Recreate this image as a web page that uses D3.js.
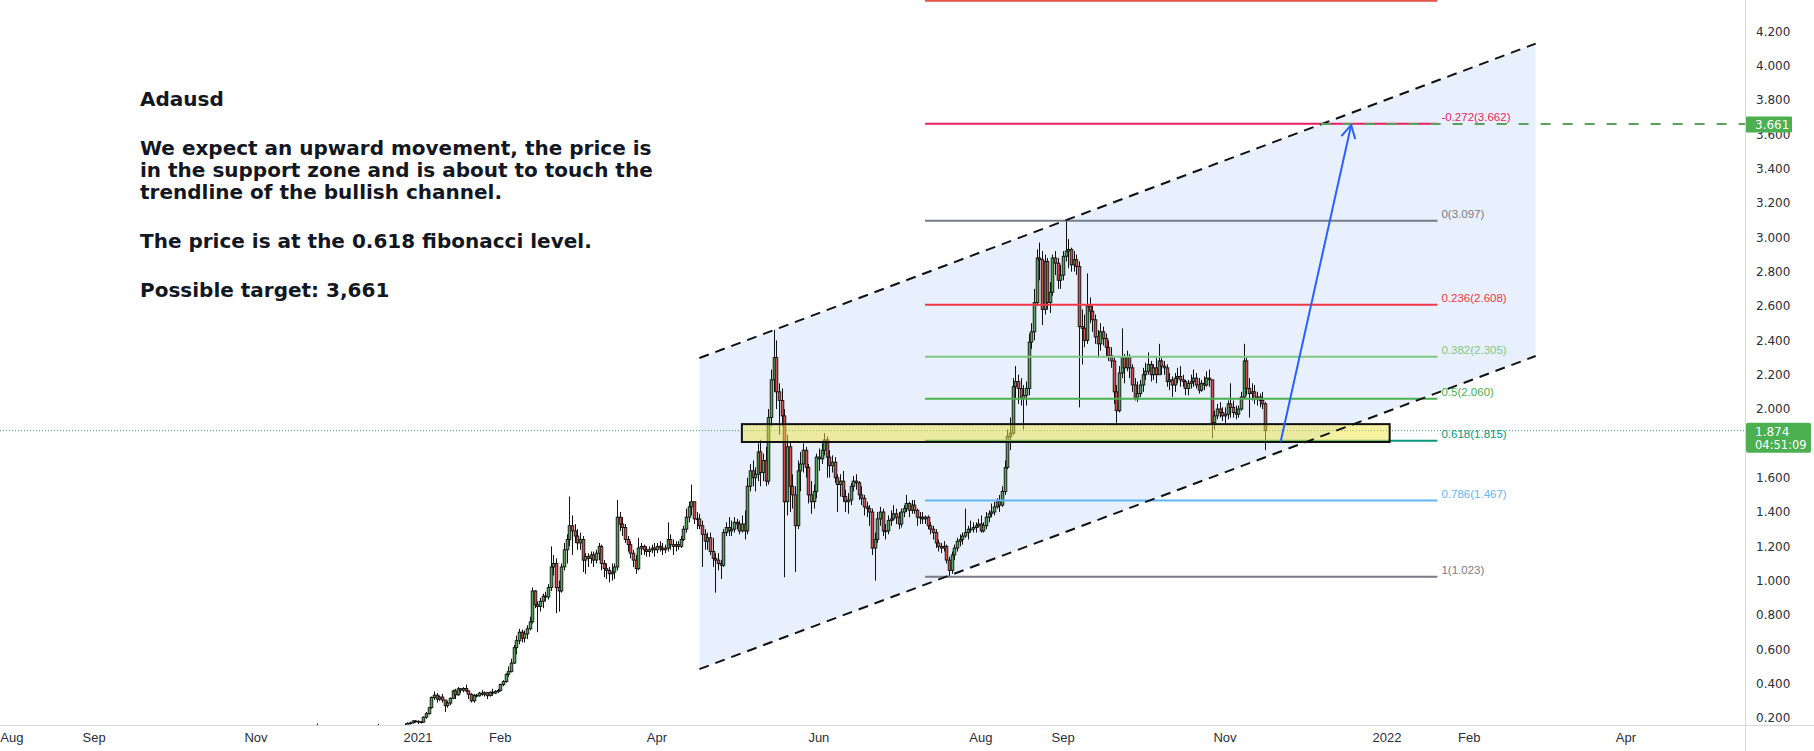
<!DOCTYPE html>
<html>
<head>
<meta charset="utf-8">
<script src="https://cdn.jsdelivr.net/npm/d3@7"></script>
<style>
  body { margin: 0; background: #fff; }
  svg { display: block; }
</style>
</head>
<body>
<svg id="chart"></svg>
<script>
// ADA/USD daily candles, [close, high, low] per day; open = previous close
const nov2020 = [[.118,.121,.112],[.129,.135,.116],[.142,.148,.127],[.152,.157,.139],[.150,.168,.143],[.140,.155,.135],[.120,.142,.105],[.130,.134,.117],[.140,.145,.128],[.151,.155,.137],[.150,.157,.143]]
const dec2020 = [[.150,.157,.141],[.152,.156,.144],[.156,.158,.148],[.141,.157,.138],[.150,.152,.139],[.153,.156,.147],[.149,.155,.146],[.140,.151,.137],[.145,.147,.133],[.143,.148,.139],[.139,.145,.134],[.146,.148,.138],[.152,.155,.144],[.151,.154,.147],[.149,.153,.146],[.154,.157,.146],[.156,.166,.150],[.153,.158,.149],[.155,.158,.150],[.150,.157,.145],[.143,.153,.139],[.147,.150,.138],[.120,.149,.115],[.135,.138,.117],[.145,.148,.133],[.150,.154,.143],[.156,.168,.147],[.168,.175,.155],[.172,.178,.162],[.183,.186,.168],[.181,.187,.173]]
const jan2021 = [[.178,.185,.165],[.176,.182,.168],[.205,.210,.175],[.225,.235,.195],[.260,.265,.220],[.320,.325,.255],[.333,.355,.305],[.310,.345,.290],[.322,.330,.300],[.305,.340,.290],[.272,.305,.235],[.287,.300,.260],[.315,.320,.275],[.358,.365,.310],[.335,.370,.310],[.370,.380,.330],[.362,.375,.345],[.372,.380,.350],[.358,.395,.350],[.338,.360,.310],[.300,.345,.290],[.332,.340,.290],[.329,.340,.320],[.345,.352,.325],[.338,.362,.330],[.347,.355,.325],[.330,.350,.310],[.350,.355,.325],[.345,.370,.330],[.355,.362,.340],[.360,.370,.345]]
const feb2021 = [[.395,.400,.355],[.412,.420,.385],[.455,.460,.405],[.470,.500,.440],[.520,.545,.465],[.610,.625,.515],[.650,.680,.570],[.700,.720,.630],[.665,.715,.640],[.690,.710,.640],[.720,.740,.660],[.760,.790,.710],[.940,.960,.750],[.860,.945,.840],[.850,.880,.700],[.880,.900,.820],[.910,.925,.840],[.905,.935,.880],[.960,.980,.890],[1.080,1.200,.940],[1.100,1.150,1.030],[.960,1.130,.810],[.940,1.000,.820],[1.080,1.100,.930],[1.180,1.220,1.060],[1.240,1.270,1.100],[1.320,1.490,1.200],[1.290,1.380,1.150]]
const mar2021 = [[1.26,1.33,1.22],[1.22,1.30,1.18],[1.24,1.28,1.18],[1.12,1.26,1.05],[1.14,1.16,1.04],[1.13,1.16,1.08],[1.15,1.17,1.10],[1.12,1.17,1.08],[1.16,1.18,1.10],[1.20,1.22,1.12],[1.10,1.21,1.06],[1.07,1.12,1.02],[1.06,1.10,1.01],[1.04,1.08,0.99],[1.05,1.10,1.00],[1.08,1.10,1.01],[1.37,1.47,1.06],[1.33,1.40,1.29],[1.31,1.37,1.26],[1.24,1.33,1.22],[1.21,1.26,1.17],[1.16,1.23,1.13],[1.12,1.18,1.08],[1.07,1.15,1.04],[1.19,1.25,1.06],[1.20,1.22,1.15],[1.18,1.21,1.15],[1.17,1.20,1.14],[1.18,1.20,1.14],[1.19,1.21,1.16],[1.18,1.22,1.14]]
const apr2021 = [[1.20,1.22,1.16],[1.19,1.23,1.17],[1.18,1.22,1.15],[1.19,1.21,1.16],[1.24,1.34,1.17],[1.21,1.27,1.18],[1.20,1.24,1.15],[1.21,1.23,1.17],[1.20,1.23,1.18],[1.24,1.26,1.19],[1.30,1.32,1.23],[1.37,1.42,1.28],[1.43,1.46,1.34],[1.46,1.56,1.38],[1.36,1.46,1.33],[1.36,1.40,1.30],[1.32,1.39,1.30],[1.27,1.35,1.08],[1.23,1.30,1.18],[1.25,1.28,1.18],[1.17,1.28,1.15],[1.13,1.25,1.08],[1.12,1.16,0.93],[1.10,1.16,1.06],[1.09,1.12,1.01],[1.28,1.30,1.08],[1.31,1.34,1.26],[1.29,1.37,1.26],[1.30,1.35,1.26],[1.34,1.37,1.28]]
const may2021 = [[1.33,1.36,1.30],[1.29,1.35,1.27],[1.33,1.38,1.28],[1.29,1.41,1.24],[1.55,1.60,1.27],[1.64,1.68,1.52],[1.60,1.70,1.55],[1.62,1.66,1.52],[1.75,1.80,1.58],[1.63,1.82,1.55],[1.70,1.74,1.58],[1.58,1.78,1.55],[1.95,2.00,1.56],[2.17,2.23,1.90],[2.30,2.46,2.10],[2.10,2.40,2.00],[2.05,2.15,1.85],[1.96,2.12,1.90],[1.46,2.00,1.02],[1.78,1.85,1.38],[1.55,1.81,1.40],[1.50,1.62,1.42],[1.32,1.55,1.05],[1.64,1.70,1.30],[1.68,1.75,1.52],[1.76,1.80,1.63],[1.66,1.78,1.60],[1.50,1.68,1.45],[1.46,1.58,1.39],[1.52,1.56,1.42],[1.72,1.74,1.48]]
const jun2021 = [[1.71,1.77,1.64],[1.76,1.80,1.68],[1.82,1.86,1.73],[1.72,1.84,1.60],[1.67,1.76,1.60],[1.69,1.73,1.63],[1.60,1.72,1.57],[1.56,1.62,1.40],[1.58,1.62,1.49],[1.49,1.64,1.46],[1.46,1.53,1.40],[1.47,1.51,1.39],[1.55,1.57,1.44],[1.58,1.61,1.52],[1.57,1.62,1.53],[1.50,1.58,1.47],[1.48,1.55,1.44],[1.43,1.50,1.38],[1.42,1.46,1.37],[1.40,1.44,1.32],[1.19,1.42,1.15],[1.24,1.28,1.00],[1.36,1.40,1.22],[1.40,1.43,1.32],[1.29,1.42,1.26],[1.29,1.33,1.24],[1.35,1.38,1.27],[1.36,1.41,1.32],[1.39,1.44,1.35],[1.37,1.42,1.33]]
const jul2021 = [[1.33,1.40,1.30],[1.40,1.42,1.31],[1.42,1.44,1.37],[1.45,1.50,1.40],[1.41,1.46,1.37],[1.44,1.47,1.39],[1.41,1.47,1.39],[1.37,1.42,1.32],[1.37,1.40,1.33],[1.36,1.40,1.33],[1.37,1.38,1.33],[1.32,1.38,1.30],[1.30,1.34,1.27],[1.28,1.32,1.24],[1.22,1.30,1.19],[1.20,1.24,1.17],[1.19,1.22,1.16],[1.20,1.23,1.17],[1.12,1.21,1.10],[1.06,1.14,1.02],[1.15,1.17,1.04],[1.19,1.21,1.12],[1.23,1.25,1.17],[1.24,1.27,1.20],[1.26,1.28,1.21],[1.28,1.42,1.25],[1.30,1.32,1.24],[1.30,1.35,1.28],[1.31,1.34,1.28],[1.32,1.34,1.28],[1.33,1.36,1.31]]
const aug2021 = [[1.29,1.38,1.28],[1.32,1.34,1.28],[1.37,1.40,1.30],[1.39,1.41,1.34],[1.40,1.45,1.37],[1.43,1.46,1.38],[1.46,1.48,1.42],[1.44,1.50,1.40],[1.52,1.55,1.43],[1.66,1.70,1.50],[1.84,1.88,1.65],[1.86,1.95,1.76],[2.13,2.18,1.85],[2.16,2.25,2.06],[2.12,2.20,2.03],[2.06,2.18,2.02],[2.08,2.14,1.88],[2.12,2.16,2.02],[2.39,2.44,2.08],[2.45,2.50,2.35],[2.62,2.70,2.40],[2.88,2.93,2.60],[2.87,2.97,2.75],[2.58,2.92,2.49],[2.86,2.90,2.55],[2.62,2.88,2.58],[2.68,2.74,2.56],[2.88,2.90,2.66],[2.85,2.92,2.78],[2.75,2.88,2.70],[2.78,2.84,2.70]]
const sep2021 = [[2.89,2.92,2.75],[2.92,3.10,2.86],[2.93,2.99,2.82],[2.84,2.94,2.80],[2.87,2.92,2.80],[2.83,2.90,2.78],[2.48,2.86,2.01],[2.47,2.58,2.26],[2.40,2.55,2.36],[2.60,2.79,2.38],[2.57,2.65,2.50],[2.52,2.60,2.45],[2.42,2.55,2.38],[2.38,2.46,2.30],[2.45,2.50,2.34],[2.41,2.48,2.37],[2.36,2.44,2.30],[2.31,2.40,2.28],[2.28,2.36,2.24],[2.10,2.30,2.03],[1.99,2.14,1.92],[2.21,2.25,1.98],[2.30,2.47,2.18],[2.24,2.32,2.15],[2.30,2.34,2.22],[2.24,2.32,2.18],[2.14,2.26,2.10],[2.06,2.18,2.05],[2.09,2.16,2.04],[2.14,2.17,2.07]]
const oct2021 = [[2.20,2.24,2.10],[2.22,2.27,2.17],[2.26,2.33,2.20],[2.20,2.28,2.16],[2.24,2.26,2.17],[2.20,2.30,2.15],[2.28,2.38,2.20],[2.25,2.30,2.20],[2.24,2.28,2.20],[2.16,2.26,2.13],[2.17,2.21,2.11],[2.14,2.19,2.07],[2.18,2.21,2.10],[2.19,2.24,2.15],[2.17,2.25,2.13],[2.16,2.20,2.13],[2.12,2.17,2.08],[2.15,2.17,2.08],[2.16,2.20,2.12],[2.18,2.23,2.13],[2.14,2.21,2.12],[2.11,2.18,2.09],[2.15,2.17,2.10],[2.14,2.19,2.11],[2.18,2.22,2.13],[2.17,2.23,2.13],[1.92,2.17,1.83],[1.96,1.99,1.88],[2.00,2.03,1.94],[1.98,2.04,1.95],[1.96,2.01,1.93]]
const nov2021 = [[1.97,2.01,1.91],[2.03,2.05,1.94],[2.01,2.15,1.95],[1.98,2.05,1.95],[1.97,2.02,1.94],[2.00,2.02,1.95],[2.07,2.10,1.99],[2.28,2.38,2.06],[2.12,2.30,2.08],[2.09,2.18,1.95],[2.10,2.15,2.05],[2.06,2.14,2.03],[2.07,2.10,2.02],[2.05,2.09,2.01],[2.03,2.10,2.00],[1.874,2.04,1.76]]
const firstOpen = 0.112

// month arrays with their first day (UTC year, month index, day)
const months = [
  [2020, 10, 20, nov2020], [2020, 11, 1, dec2020], [2021, 0, 1, jan2021], [2021, 1, 1, feb2021],
  [2021, 2, 1, mar2021], [2021, 3, 1, apr2021], [2021, 4, 1, may2021], [2021, 5, 1, jun2021],
  [2021, 6, 1, jul2021], [2021, 7, 1, aug2021], [2021, 8, 1, sep2021], [2021, 9, 1, oct2021],
  [2021, 10, 1, nov2021]
]

// price axis and time axis labels
const yTickValues = [0.2,0.4,0.6,0.8,1.0,1.2,1.4,1.6,1.8,2.0,2.2,2.4,2.6,2.8,3.0,3.2,3.4,3.6,3.8,4.0,4.2]
const xTickDates = ["2020-08-01","2020-09-01","2020-11-01","2021-01-01","2021-02-01","2021-04-01","2021-06-01","2021-08-01","2021-09-01","2021-11-01","2022-01-01","2022-02-01","2022-04-01"]
const xTickLabels = ["Aug","Sep","Nov","2021","Feb","Apr","Jun","Aug","Sep","Nov","2022","Feb","Apr"]

// fibonacci retracement
const fibLevels = [-0.618, -0.272, 0, 0.236, 0.382, 0.5, 0.618, 0.786, 1]
const fibPrices = [4.379, 3.662, 3.097, 2.608, 2.305, 2.060, 1.815, 1.467, 1.023]
const fibColors = ["#e0554a", "#e91e63", "#787b86", "#f23645", "#81c784", "#4caf50", "#089981", "#64b5f6", "#787b86"]
const fibSpan = ["2021-07-11", "2022-01-20"]

// bullish channel: [date, upper price, lower price]
const channelStart = ["2021-04-17", 2.297, 0.485]
const channelEnd = ["2022-02-26", 4.129, 2.309]

// support zone and projection
const zoneSpan = ["2021-05-03", "2022-01-02"]
const zonePrices = [1.808, 1.912]
const arrowFrom = ["2021-11-22T00:00Z", 1.814]
const arrowTo = ["2021-12-18T12:00Z", 3.655]
const targetPrice = 3.661
const targetStart = "2021-12-07"
const lastPrice = 1.874
const countdown = "04:51:09"

const noteLines = [
  "Adausd",
  "We expect an upward movement, the price is",
  "in the support zone and is about to touch the",
  "trendline of the bullish channel.",
  "The price is at the 0.618 fibonacci level.",
  "Possible target: 3,661"
]
const noteBaselines = [106, 155, 177, 199, 248, 297]

const W = 1814, H = 751
const plotRight = 1745, plotBottom = 725

const svg = d3.select("#chart").attr("width", W).attr("height", H)
  .style("font-family", "'DejaVu Sans', sans-serif")

svg.append("rect").attr("width", W).attr("height", H).attr("fill", "#fff")

svg.append("defs").append("clipPath").attr("id", "plot")
  .append("rect").attr("x", 0).attr("y", 0).attr("width", plotRight).attr("height", plotBottom)

const x = d3.scaleUtc()
  .domain([new Date("2021-01-01"), new Date("2022-01-01")])
  .range([418, 1387])
const y = d3.scaleLinear()
  .domain([0.2, 4.2])
  .range([718, 31.4])

// build candles
let candles = []
let prev = firstOpen
months.forEach(([yr, mo, d0, rows]) => {
  rows.forEach((r, i) => {
    candles.push({ date: new Date(Date.UTC(yr, mo, d0 + i)), open: prev, close: r[0], high: r[1], low: r[2] })
    prev = r[0]
  })
})

const plot = svg.append("g").attr("clip-path", "url(#plot)")

// channel fill
const cs = new Date(channelStart[0]), ce = new Date(channelEnd[0])
plot.append("path")
  .attr("d", d3.line()([
    [x(cs), y(channelStart[1])], [x(ce), y(channelEnd[1])],
    [x(ce), y(channelEnd[2])], [x(cs), y(channelStart[2])]
  ]) + "Z")
  .attr("fill", "rgba(33,110,243,0.1)")

const fibX0 = x(new Date(fibSpan[0])), fibX1 = x(new Date(fibSpan[1]))

// current price dotted line
plot.append("line")
  .attr("x1", 0).attr("x2", plotRight)
  .attr("y1", y(lastPrice)).attr("y2", y(lastPrice))
  .attr("stroke", "#3f9f6a").attr("stroke-width", 1).attr("stroke-dasharray", "1,2")

// candles
const upColor = "#56a35a", downColor = "#cc4f4f"
const cg = plot.append("g")
cg.selectAll("line").data(candles).join("line")
  .attr("x1", d => Math.round(x(d.date)) + 0.5).attr("x2", d => Math.round(x(d.date)) + 0.5)
  .attr("y1", d => y(d.high)).attr("y2", d => y(d.low))
  .attr("stroke", "#111").attr("stroke-width", 1)
cg.selectAll("rect").data(candles).join("rect")
  .attr("x", d => Math.round(x(d.date)) - 0.8)
  .attr("y", d => y(Math.max(d.open, d.close)))
  .attr("width", 2.6)
  .attr("height", d => Math.max(0.8, Math.abs(y(d.open) - y(d.close))))
  .attr("fill", d => d.close >= d.open ? upColor : downColor)
  .attr("stroke", "#111").attr("stroke-width", 0.9)

// fib lines and labels
plot.selectAll("line.fib").data(fibPrices).join("line").attr("class", "fib")
  .attr("x1", fibX0).attr("x2", fibX1)
  .attr("y1", d => y(d)).attr("y2", d => y(d))
  .attr("stroke", (d, i) => fibColors[i]).attr("stroke-width", 2)
plot.selectAll("text.fib").data(fibPrices).join("text").attr("class", "fib")
  .attr("x", fibX1 + 4).attr("y", d => y(d) - 3)
  .attr("fill", (d, i) => fibColors[i])
  .style("font-family", "'Liberation Sans', Arial, sans-serif").style("font-size", "11.5px")
  .text((d, i) => fibLevels[i] + "(" + d.toFixed(3) + ")")

// support zone
const zx0 = x(new Date(zoneSpan[0])), zx1 = x(new Date(zoneSpan[1]))
plot.append("rect")
  .attr("x", zx0).attr("y", y(zonePrices[1]))
  .attr("width", zx1 - zx0).attr("height", y(zonePrices[0]) - y(zonePrices[1]))
  .attr("fill", "rgba(240,228,70,0.5)").attr("stroke", "#111").attr("stroke-width", 2)

// channel lines
plot.selectAll("line.chan").data([1, 2]).join("line").attr("class", "chan")
  .attr("x1", x(cs)).attr("x2", x(ce))
  .attr("y1", k => y(channelStart[k])).attr("y2", k => y(channelEnd[k]))
  .attr("stroke", "#111").attr("stroke-width", 2).attr("stroke-dasharray", "10,7")

// target line
plot.append("line")
  .attr("x1", x(new Date(targetStart))).attr("x2", plotRight)
  .attr("y1", y(targetPrice)).attr("y2", y(targetPrice))
  .attr("stroke", "#5b9f5e").attr("stroke-width", 2).attr("stroke-dasharray", "10,12")

// projection arrow
const ax0 = x(new Date(arrowFrom[0])), ay0 = y(arrowFrom[1])
const ax1 = x(new Date(arrowTo[0])), ay1 = y(arrowTo[1])
const ang = Math.atan2(ay1 - ay0, ax1 - ax0)
const head = 14, spread = 0.5
const arrow = plot.append("g").attr("stroke", "#2962ff").attr("stroke-width", 2).attr("fill", "none")
  .attr("stroke-linecap", "round")
arrow.append("line").attr("x1", ax0).attr("y1", ay0).attr("x2", ax1).attr("y2", ay1)
arrow.append("path").attr("d", d3.line()([
  [ax1 - head * Math.cos(ang - spread), ay1 - head * Math.sin(ang - spread)],
  [ax1, ay1],
  [ax1 - head * Math.cos(ang + spread), ay1 - head * Math.sin(ang + spread)]
]))

// note text
svg.append("g").selectAll("text").data(noteLines).join("text")
  .attr("x", 140).attr("y", (d, i) => noteBaselines[i])
  .attr("fill", "#131722")
  .style("font-size", "20px").style("font-weight", "bold")
  .text(d => d)

// axes
svg.append("line").attr("x1", 0).attr("x2", W).attr("y1", plotBottom + 0.5).attr("y2", plotBottom + 0.5)
  .attr("stroke", "#d6d8de")
svg.append("line").attr("x1", plotRight + 0.5).attr("x2", plotRight + 0.5).attr("y1", 0).attr("y2", H)
  .attr("stroke", "#d6d8de")

// price labels hidden under the last-price box are not drawn
const pY = y(lastPrice)
svg.append("g").selectAll("text")
  .data(yTickValues.filter(v => y(v) < pY - 14 || y(v) > pY + 28))
  .join("text")
  .attr("x", 1756).attr("y", d => y(d)).attr("dy", "0.35em")
  .attr("fill", "#2a2e39").style("font-size", "12px")
  .text(d => d3.format(".3f")(d))

svg.append("g").selectAll("text").data(xTickDates).join("text")
  .attr("x", d => x(new Date(d))).attr("y", 737).attr("dy", "0.35em")
  .attr("text-anchor", "middle").attr("fill", "#2a2e39")
  .style("font-family", "'Liberation Sans Narrow', 'Liberation Sans', sans-serif").style("font-size", "13px")
  .text((d, i) => xTickLabels[i])

// price labels on the axis
const tY = y(targetPrice)
svg.append("rect").attr("x", plotRight + 1).attr("y", tY - 7.5).attr("width", 46).attr("height", 16)
  .attr("fill", "#4caf50").attr("rx", 1)
svg.append("text").attr("x", 1755).attr("y", tY + 0.5).attr("dy", "0.35em")
  .attr("fill", "#fff").style("font-size", "12px").text(d3.format(".3f")(targetPrice))

svg.append("rect").attr("x", plotRight + 1).attr("y", pY - 8).attr("width", 65).attr("height", 30)
  .attr("fill", "#4caf50").attr("rx", 2)
svg.append("text").attr("x", 1755).attr("y", pY + 1).attr("dy", "0.35em")
  .attr("fill", "#fff").style("font-size", "12px").text(d3.format(".3f")(lastPrice))
svg.append("text").attr("x", 1755).attr("y", pY + 14).attr("dy", "0.35em")
  .attr("fill", "#fff").style("font-size", "11.5px").text(countdown)
</script>
</body>
</html>
